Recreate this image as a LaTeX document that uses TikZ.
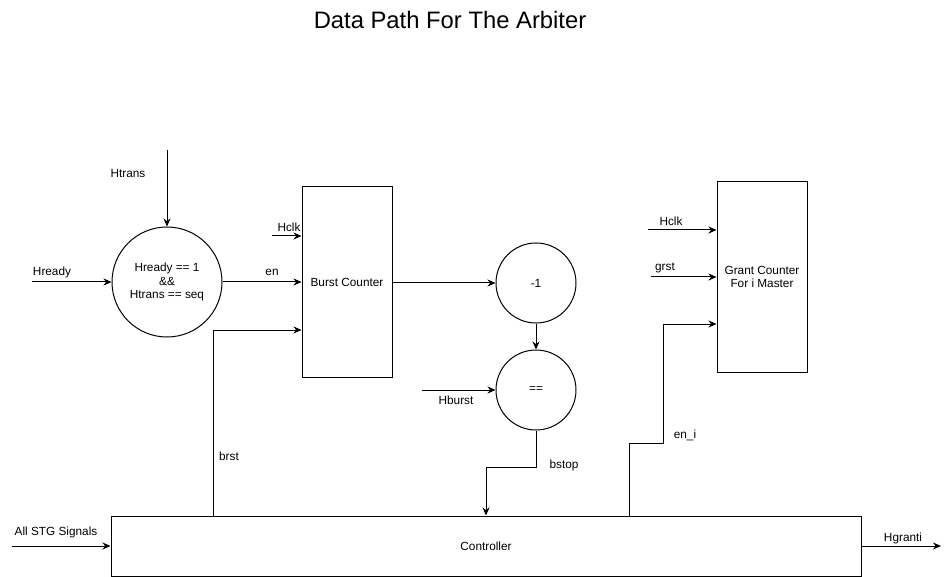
\documentclass[tikz,border=0pt]{standalone}
\usepackage{fontspec}
\setmainfont{Liberation Sans}
\usetikzlibrary{arrows.meta}
\begin{document}
\begin{tikzpicture}[x=1pt,y=-1pt,
  every node/.style={font=\fontsize{11.8}{13.5}\selectfont, inner sep=0pt},
  blk/.style={draw, line width=1pt, minimum width=90pt, minimum height=190pt, align=center},
  op/.style={draw, circle, line width=1pt, align=center},
  wire/.style={line width=1pt, -{Stealth[length=8pt,width=7pt]}},
  lbl/.style={anchor=center}]
\useasboundingbox (0,0) rectangle (950,577);
\node[font=\fontsize{23.8}{28}\selectfont] (title) at (450,20) {Data Path For The Arbiter};
% nodes
\node[op, minimum size=110pt] (cond) at (167,282) {Hready == 1\\\&\&\\Htrans == seq};
\node[blk] (bc) at (347,282) {Burst Counter};
\node[op, minimum size=80pt] (dec) at (536,283) {-1};
\node[op, minimum size=80pt] (eq) at (536,390) {==};
\node[blk] (gc) at (762,277) {Grant Counter\\For i Master};
\node[draw, line width=1pt, minimum width=750pt, minimum height=60pt] (ctl) at (486,546) {Controller};
% free ends
\coordinate (htr) at (167,150);
\coordinate (hrd) at (32,282);
\coordinate (hclk1) at (272,236);
\coordinate (hb) at (422,390);
\coordinate (hclk2) at (648,230);
\coordinate (grst) at (651,277);
\coordinate (stg) at (12,546);
\coordinate (hg) at (941,546);
% connectors
\draw[wire] (htr) -- (cond.north);
\draw[wire] (hrd) -- (cond.west);
\draw[wire] (cond.east) -- (bc.west |- cond.east);
\draw[wire] (hclk1) -- (bc.west |- hclk1);
\draw[wire] (ctl.north -| 213,0) -- (213,330) -- (bc.west |- 0,330);
\draw[wire] (bc.east |- 0,283) -- (dec.west);
\draw[wire] (dec.south) -- (eq.north);
\draw[wire] (hb) -- (eq.west);
\draw[wire] (eq.south) -- (536,467) -- (486,467) -- (ctl.north -| 486,0);
\draw[wire] (hclk2) -- (gc.west |- hclk2);
\draw[wire] (grst) -- (gc.west |- grst);
\draw[wire] (ctl.north -| 629,0) -- (629,443) -- (663,443) -- (663,324) -- (gc.west |- 0,324);
\draw[wire] (stg) -- (ctl.west);
\draw[wire] (ctl.east) -- (hg);
% labels
\node[lbl] (l1) at (128,173) {Htrans};
\node[lbl] (l2) at (52,272) {Hready};
\node[lbl] (l3) at (272,272) {en};
\node[lbl] (l4) at (289,227) {Hclk};
\node[lbl] (l5) at (229,456) {brst};
\node[lbl] (l6) at (456,400) {Hburst};
\node[lbl] (l7) at (564,465) {bstop};
\node[lbl] (l8) at (685,435) {en\_i};
\node[lbl] (l9) at (671,221) {Hclk};
\node[lbl] (l10) at (665,268) {grst};
\node[lbl] (l11) at (56,532) {All STG Signals};
\node[lbl] (l12) at (903,538) {Hgranti};
\end{tikzpicture}
\end{document}
